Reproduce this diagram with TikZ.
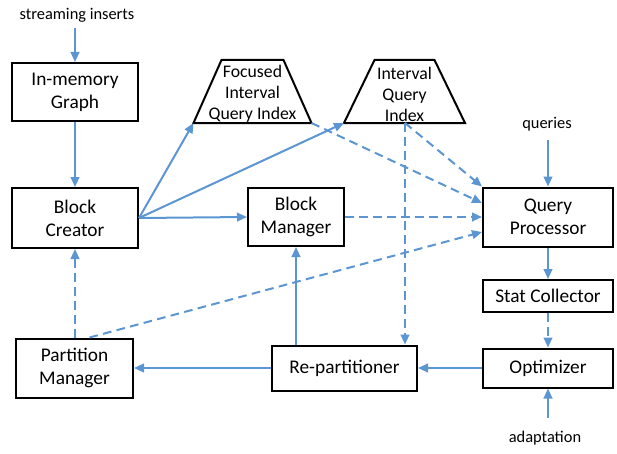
\documentclass[tikz,border=0pt]{standalone}
\usepackage{fontspec}
\setmainfont{Carlito}
\usetikzlibrary{arrows.meta,calc}
\definecolor{ab}{RGB}{91,150,210}
\begin{document}
\begin{tikzpicture}[x=0.75pt,y=-0.75pt,
 box/.style={draw=black,line width=1.5pt,align=center,font=\fontsize{14.5}{17.25}\selectfont,inner sep=0pt},
 trtext/.style={align=center,font=\fontsize{13.3}{15.75}\selectfont,inner sep=0pt},
 lbl/.style={font=\fontsize{12.3}{14}\selectfont,inner sep=0pt},
 arr/.style={draw=ab,line width=1.5pt,-{Triangle[length=7.5pt,width=6.5pt]}},
 darr/.style={arr,dash pattern=on 6.5pt off 4pt},
 trap/.style={draw=black,line width=1.5pt,line join=miter}]
\useasboundingbox (0,0) rectangle (617,453);
% labels
\node[lbl] (si) at (77,15) {streaming inserts};
\node[lbl] (qu) at (547,124) {queries};
\node[lbl] (ad) at (545,438) {adaptation};
\coordinate (siA) at (75,28);
\coordinate (quA) at (548,140);
\coordinate (adA) at (548,418);
% boxes
\node[box,minimum width=94.5pt,minimum height=43.5pt] (IMG) at (75,92) {In-memory\\Graph};
\node[box,minimum width=94.5pt,minimum height=45pt] (BC) at (75,218) {Block\\Creator};
\node[box,minimum width=72pt,minimum height=43.5pt] (BM) at (296,217) {Block\\Manager};
\node[box,minimum width=97.5pt,minimum height=44.25pt] (QP) at (548,217) {Query\\Processor};
\node[box,minimum width=97.5pt,minimum height=24pt] (SC) at (548,296) {Stat Collector};
\node[box,minimum width=97.5pt,minimum height=29.25pt] (OPT) at (548,368) {Optimizer};
\node[box,minimum width=108.75pt,minimum height=33.75pt] (RP) at (344.5,368) {Re-partitioner};
\node[box,minimum width=87.75pt,minimum height=44.25pt] (PM) at (74.5,368) {Partition\\Manager};
% trapezoids
\draw[trap] (221.5,60) -- (283.5,60) -- (311.5,123) coordinate (FBR) -- (193.5,123) coordinate (FBL) -- cycle;
\node[trtext] (F) at (252.5,94) {Focused\\Interval\\Query Index};
\draw[trap] (374.5,60) -- (434.5,60) -- (465,123) coordinate (IBR) -- (344,123) coordinate (IBL) -- cycle;
\node[trtext] (I) at (404.5,94) {Interval\\Query\\Index};
\coordinate (IB) at (405,123);
% solid arrows
\draw[arr] (siA) -- (IMG.north);
\draw[arr] (IMG.south) -- (BC.north);
\draw[arr] (BC.east) -- (FBL);
\draw[arr] (BC.east) -- (IBL);
\draw[arr] (BC.east) -- (BM.west);
\draw[arr] (quA) -- (QP.north);
\draw[arr] (QP.south) -- (SC.north);
\draw[arr] (adA) -- (OPT.south);
\draw[arr] (OPT.west) -- (RP.east);
\draw[arr] (RP.west) -- (PM.east);
\draw[arr] (RP.north -| BM.south) -- (BM.south);
% dashed arrows
\draw[darr] (FBR) -- ($(QP.west)+(0,-14)$);
\draw[darr] (IB) -- (QP.north west);
\draw[darr] (IB) -- (IB |- RP.north);
\draw[darr] (BM.east) -- (QP.west);
\draw[darr] ($(PM.north)+(15,0)$) -- ($(QP.west)+(0,15)$);
\draw[darr] (PM.north -| BC.south) -- (BC.south);
\draw[darr] (SC.south) -- (OPT.north);
\end{tikzpicture}
\end{document}
